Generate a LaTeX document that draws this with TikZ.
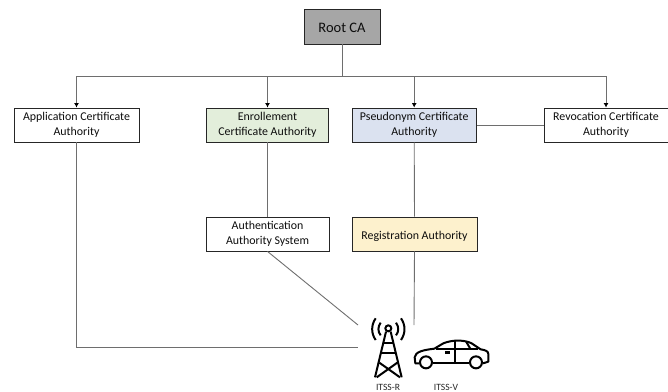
\documentclass[tikz,border=0pt]{standalone}
\usepackage{fontspec}
\setmainfont{Carlito}
\usetikzlibrary{arrows.meta}
\definecolor{conn}{HTML}{6E6E6E}
\definecolor{enr}{HTML}{E3EEDB}
\definecolor{pse}{HTML}{DBE2F0}
\definecolor{reg}{HTML}{FDF1CD}
\tikzset{
  x=1pt,y=-1pt,
  boxnode/.style={draw=black!85,line width=0.9pt,minimum height=34pt,inner sep=0pt,align=center,font=\fontsize{11.9}{14.7}\selectfont,text=black!95,execute at begin node={\rule{0pt}{13pt}}},
  wire/.style={draw=conn,line width=0.9pt},
  arrowwire/.style={wire,-{Latex[length=4.5pt,width=5pt,black]}},
  icon/.style={draw=black,line width=2pt,line join=round},
  iconcap/.style={font=\fontsize{9.6}{11}\selectfont,text=black!85,inner sep=0pt,anchor=base,text depth=0pt}
}
\begin{document}
\begin{tikzpicture}
\useasboundingbox (0,0) rectangle (668,391);
\node[boxnode,fill=black!35,minimum width=76pt,minimum height=35pt,font=\fontsize{14.5}{17}\selectfont] (root) at (342,26.5) {Root CA};
\node[boxnode,fill=white,minimum width=125pt] (app) at (76.5,125) {Application Certificate\\Authority};
\node[boxnode,fill=enr,minimum width=122.5pt] (enr) at (267.5,125) {Enrollement\\Certificate Authority};
\node[boxnode,fill=pse,minimum width=124.5pt] (pse) at (414.2,125) {Pseudonym Certificate\\Authority};
\node[boxnode,fill=white,minimum width=124pt] (rev) at (606,125) {Revocation Certificate\\Authority};
\node[boxnode,fill=white,minimum width=123pt] (auth) at (267.5,234) {Authentication\\Authority System};
\node[boxnode,fill=reg,minimum width=125pt] (regb) at (414.5,234) {Registration Authority};
\coordinate (bus) at (342,76);
\coordinate (busL) at (76.5,347);
\coordinate (towerL) at (358,347);
\coordinate (towerD) at (358,325);
\coordinate (carT) at (414,325);
\draw[wire] (root.south) -- (bus);
\draw[arrowwire] (bus) -| (app.north);
\draw[arrowwire] (bus) -| (enr.north);
\draw[arrowwire] (bus) -| (pse.north);
\draw[arrowwire] (bus) -| (rev.north);
\draw[wire] (pse.east) -- (rev.west);
\draw[wire] (enr.south) -- (auth.north);
\draw[wire] (pse.south) -- (regb.north);
\draw[wire] (auth.south) -- (towerD);
\draw[wire] (regb.south) -- (carT);
\draw[wire] (app.south) -- (busL) -- (towerL);
% icons: coordinates are those of a 3x view whose origin is (340,300)
\begin{scope}[shift={(340,300)},x=0.3333pt,y=-0.3333pt]
  % tower
  \draw[icon] (145,85) circle (9);
  \draw[icon] (138,95) -- (105,232);
  \draw[icon] (152,95) -- (185,232);
  \draw[icon] (129,128) -- (161,128);
  \draw[icon] (122,160) -- (168,160);
  \draw[icon] (118,188) -- (180,232);
  \draw[icon] (172,188) -- (110,232);
  \draw[icon] (122,68) .. controls (113,80) and (113,95) .. (122,106);
  \draw[icon] (168,68) .. controls (177,80) and (177,95) .. (168,106);
  \draw[icon] (107,55) .. controls (93,75) and (93,100) .. (107,120);
  \draw[icon] (183,55) .. controls (197,75) and (197,100) .. (183,120);
  % car
  \draw[icon] (238,190) -- (226,190) -- (224,172) .. controls (226,155) and (250,150) .. (283,146)
     -- (310,130) .. controls (340,118) and (375,120) .. (395,130) -- (422,148)
     .. controls (435,150) and (445,153) .. (445,162) -- (445,185) -- (429,190);
  \draw[icon] (278,190) -- (388,190);
  \draw[icon] (258,187) circle (18);
  \draw[icon] (408,187) circle (18);
  \draw[icon] (346,122) -- (346,190);
  \draw[icon] (288,148) -- (415,148);
  \draw[icon] (378,124) -- (392,148);
  \draw[icon,line width=2.5pt] (316,157) -- (330,157);
\end{scope}
\node[iconcap] (itr) at (388,390) {ITSS-R};
\node[iconcap] (itv) at (446,390) {ITSS-V};
\end{tikzpicture}
\end{document}
